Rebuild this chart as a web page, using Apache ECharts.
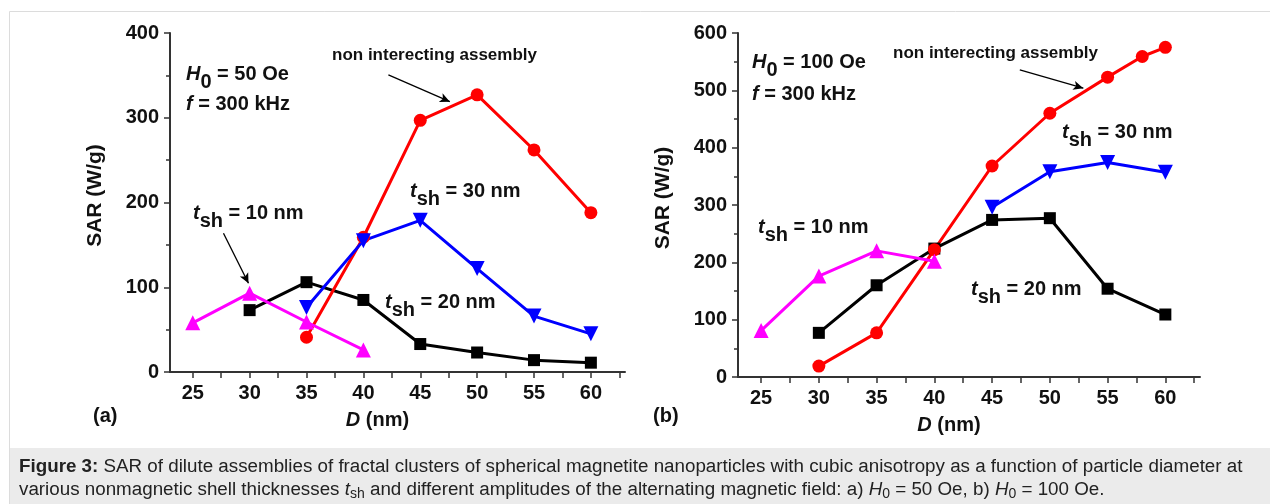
<!DOCTYPE html>
<html><head><meta charset="utf-8">
<script src="https://cdn.jsdelivr.net/npm/echarts@6/dist/echarts.min.js"></script>
<style>html,body{margin:0;padding:0;background:#fff}#c{width:1270px;height:504px}</style>
</head><body><div id="c"></div>
<script>
// ---- data ----
const xTickLabels = [25, 30, 35, 40, 45, 50, 55, 60];
const xMinorTicks = [25, 27.5, 30, 32.5, 35, 37.5, 40, 42.5, 45, 47.5, 50, 52.5, 55, 57.5, 60, 62.5];

// Panel (a) H0 = 50 Oe
const aNonInt = [[35, 41], [40, 159], [45, 297], [50, 327], [55, 262], [60, 188]];
const aT30 = [[35, 76], [40, 155], [45, 179], [50, 122], [55, 66], [60, 45]];
const aT20 = [[30, 73], [35, 106], [40, 85], [45, 33], [50, 23], [55, 14], [60, 11]];
const aT10 = [[25, 58], [30, 93], [35, 59], [40, 26]];

// Panel (b) H0 = 100 Oe
const bNonInt = [[30, 19], [35, 77], [40, 222], [45, 368], [50, 460], [55, 523], [58, 559], [60, 575]];
const bT30 = [[45, 296], [50, 358], [55, 374], [60, 357]];
const bT20 = [[30, 77], [35, 160], [40, 224], [45, 274], [50, 277], [55, 154], [60, 109]];
const bT10 = [[25, 81], [30, 176], [35, 220], [40, 202]];

const FONT = '"Liberation Sans", Arial, sans-serif';

function xAxisDef(gi) {
  return {
    gridIndex: gi, type: 'value', min: 23, max: 63,
    name: '{i|D} (nm)', nameLocation: 'middle', nameGap: 38,
    nameTextStyle: {
      fontFamily: FONT, fontSize: 20, fontWeight: 'bold', color: '#111', padding: [0, 40, 0, 0],
      rich: { i: { fontFamily: FONT, fontSize: 20, fontWeight: 'bold', fontStyle: 'italic', color: '#111' } }
    },
    axisLine: { show: true, onZero: false, lineStyle: { color: '#333', width: 2 } },
    axisTick: { show: true, inside: false, length: 6, lineStyle: { color: '#333', width: 1.5 }, customValues: xMinorTicks },
    axisLabel: { show: true, margin: 11, fontFamily: FONT, fontSize: 20, fontWeight: 'bold', color: '#111', customValues: xTickLabels },
    splitLine: { show: false }
  };
}
function yAxisDef(gi, max) {
  return {
    gridIndex: gi, type: 'value', min: 0, max: max, interval: 100,
    name: 'SAR (W/g)', nameLocation: 'middle', nameGap: 64, nameRotate: 90,
    nameTextStyle: { fontFamily: FONT, fontSize: 21, fontWeight: 'bold', color: '#111', padding: [0, 0, 0, 14] },
    axisLine: { show: true, lineStyle: { color: '#333', width: 2 } },
    axisTick: { show: true, inside: false, length: 6, lineStyle: { color: '#333', width: 1.5 } },
    minorTick: { show: true, splitNumber: 2, length: 4, lineStyle: { color: '#333', width: 1.5 } },
    axisLabel: { show: true, margin: 11, fontFamily: FONT, fontSize: 20, fontWeight: 'bold', color: '#111' },
    splitLine: { show: false }
  };
}
function ser(name, data, xi, color, symbol, size, extra) {
  return Object.assign({
    name: name, type: 'line', xAxisIndex: xi, yAxisIndex: xi, data: data,
    symbol: symbol, symbolSize: size, showAllSymbol: true,
    lineStyle: { color: color, width: 3 },
    itemStyle: { color: color, borderWidth: 0 },
    animation: false, z: 3
  }, extra || {});
}
function arrow(from, to) {
  return {
    silent: true, animation: false, symbol: ['none', 'arrow'], symbolSize: [7, 10],
    label: { show: false },
    lineStyle: { color: '#000', width: 1.3, type: 'solid' },
    data: [[{ coord: from }, { coord: to }]]
  };
}

const bold = { fontFamily: FONT, fontSize: 20, fontWeight: 'bold', fill: '#111', lineHeight: 28, verticalAlign: 'top' };
const richT = {
  it: Object.assign({}, bold, { fontStyle: 'italic' }),
  s: Object.assign({}, bold, { verticalAlign: 'bottom' }),
  n: Object.assign({}, bold),
  m: Object.assign({}, bold, { fontSize: 17, lineHeight: 20 })
};
function txt(x, y, text) {
  return { type: 'text', x: x, y: y, z: 10, style: { text: text, fontFamily: FONT, fontSize: 20, fontWeight: 'bold', fill: '#111', verticalAlign: 'middle', align: 'left', rich: richT } };
}

const CF = 18.8;
const captionRich = {
  b: { fontFamily: FONT, fontSize: CF, fontWeight: 'bold', fill: '#222', lineHeight: 24 },
  r: { fontFamily: FONT, fontSize: CF, fill: '#222', lineHeight: 24 },
  i: { fontFamily: FONT, fontSize: CF, fontStyle: 'italic', fill: '#222', lineHeight: 24 },
  sub: { fontFamily: FONT, fontSize: 14, fill: '#222', lineHeight: 24, padding: [9, 0, 0, 0] }
};

const option = {
  backgroundColor: '#fff',
  animation: false,
  grid: [
    { left: 170, top: 33, width: 455, height: 339, show: true, borderColor: '#000', borderWidth: 1.5, backgroundColor: 'transparent' },
    { left: 738, top: 33, width: 462, height: 344, show: true, borderColor: '#000', borderWidth: 1.5, backgroundColor: 'transparent' }
  ],
  xAxis: [xAxisDef(0), xAxisDef(1)],
  yAxis: [yAxisDef(0, 400), yAxisDef(1, 600)],
  series: [
    ser('t_sh = 20 nm (a)', aT20, 0, '#000000', 'rect', 12),
    ser('non interacting (a)', aNonInt, 0, '#ff0000', 'circle', 13, { markLine: arrow([42.2, 350.6], [47.6, 319]) }),
    ser('t_sh = 30 nm (a)', aT30, 0, '#0000ff', 'triangle', 15, { symbolRotate: 180 }),
    ser('t_sh = 10 nm (a)', aT10, 0, '#ff00ff', 'triangle', 15, { markLine: arrow([27.7, 163.7], [29.9, 104.7]) }),
    ser('t_sh = 20 nm (b)', bT20, 1, '#000000', 'rect', 12),
    ser('non interacting (b)', bNonInt, 1, '#ff0000', 'circle', 13, { markLine: arrow([47.4, 535.8], [52.9, 503.8]) }),
    ser('t_sh = 30 nm (b)', bT30, 1, '#0000ff', 'triangle', 15, { symbolRotate: 180 }),
    ser('t_sh = 10 nm (b)', bT10, 1, '#ff00ff', 'triangle', 15)
  ],
  graphic: [
    { type: 'rect', z: 0, shape: { x: 9.5, y: 11.5, width: 1270, height: 500 }, style: { fill: '#fff', stroke: '#dcdcdc', lineWidth: 1 } },
    { type: 'rect', z: 1, shape: { x: 10, y: 448, width: 1262, height: 60 }, style: { fill: '#ebebeb' } },
    { type: 'text', z: 2, x: 19, y: 467, style: { text: '{b|Figure 3:}{r| SAR of dilute assemblies of fractal clusters of spherical magnetite nanoparticles with cubic anisotropy as a function of particle diameter at}', verticalAlign: 'middle', rich: captionRich } },
    { type: 'text', z: 2, x: 19, y: 490, style: { text: '{r|various nonmagnetic shell thicknesses }{i|t}{sub|sh}{r| and different amplitudes of the alternating magnetic field: a) }{i|H}{sub|0}{r| = 50 Oe, b) }{i|H}{sub|0}{r| = 100 Oe.}', verticalAlign: 'middle', rich: captionRich } },
    txt(186, 78, '{it|H}{s|0}{n| = 50 Oe}'),
    txt(186, 108, '{it|f}{n| = 300 kHz}'),
    txt(332, 57, '{m|non interecting assembly}'),
    txt(193, 217.5, '{it|t}{s|sh}{n| = 10 nm}'),
    txt(410, 195.5, '{it|t}{s|sh}{n| = 30 nm}'),
    txt(385, 306.5, '{it|t}{s|sh}{n| = 20 nm}'),
    txt(752, 66, '{it|H}{s|0}{n| = 100 Oe}'),
    txt(752, 98, '{it|f}{n| = 300 kHz}'),
    txt(893, 55, '{m|non interecting assembly}'),
    txt(1062, 136.5, '{it|t}{s|sh}{n| = 30 nm}'),
    txt(758, 231, '{it|t}{s|sh}{n| = 10 nm}'),
    txt(971, 293, '{it|t}{s|sh}{n| = 20 nm}'),
    txt(93, 420, '{n|(a)}'),
    txt(653, 420, '{n|(b)}')
  ]
};
const chart = echarts.init(document.getElementById('c'), null, { renderer: 'canvas' });
chart.setOption(option);
</script></body></html>
